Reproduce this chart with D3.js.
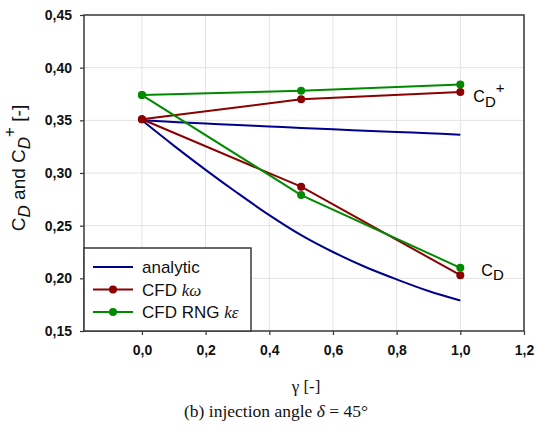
<!DOCTYPE html>
<html>
<head>
<meta charset="utf-8">
<script src="https://cdn.jsdelivr.net/npm/d3@7"></script>
<style>
  body { margin: 0; background: #fff; }
  svg { display: block; }
  .tick text { font-family: "Liberation Sans", Arial, sans-serif; font-weight: bold; font-size: 14px; fill: #111; }
</style>
</head>
<body>
<div id="chart"></div>
<script>
// gamma positions of the analytic curves
const gammaFine = [0, 0.1, 0.2, 0.3, 0.4, 0.5, 0.6, 0.7, 0.8, 0.9, 1.0]
const analyticPlus = [0.350, 0.3484, 0.3469, 0.3455, 0.3441, 0.3428, 0.3415, 0.3402, 0.3390, 0.3378, 0.3363]
const analyticMinus = [0.350, 0.326, 0.303, 0.281, 0.260, 0.241, 0.225, 0.211, 0.199, 0.188, 0.179]

// CFD points
const gammaCfd = [0, 0.5, 1.0]
const komegaPlus = [0.351, 0.370, 0.377]
const komegaMinus = [0.351, 0.287, 0.203]
const rngPlus = [0.374, 0.378, 0.384]
const rngMinus = [0.374, 0.279, 0.210]

const xTicks = [0, 0.2, 0.4, 0.6, 0.8, 1.0, 1.2]
const yTicks = [0.15, 0.20, 0.25, 0.30, 0.35, 0.40, 0.45]

const legendItems = [
  {label: 'analytic', color: '#00008f', dot: false},
  {label: 'CFD ', it: 'kω', color: '#8b0000', dot: true},
  {label: 'CFD RNG ', it: 'kε', color: '#008a00', dot: true}
]

const W = 536, H = 428
const m = {left: 84, right: 12, top: 15, bottom: 97}
const pw = W - m.left - m.right
const ph = H - m.top - m.bottom

const svg = d3.select('#chart').append('svg').attr('width', W).attr('height', H)
const g = svg.append('g').attr('transform', `translate(${m.left},${m.top})`)

const x = d3.scaleLinear().domain([-0.182, 1.2]).range([0, pw])
const y = d3.scaleLinear().domain([0.15, 0.45]).range([ph, 0])
const comma = d => d3.format('.1f')(d).replace('.', ',')
const comma2 = d => d3.format('.2f')(d).replace('.', ',')

// grid
g.append('g').selectAll('line').data(xTicks).join('line')
  .attr('x1', d => x(d)).attr('x2', d => x(d)).attr('y1', 0).attr('y2', ph)
  .attr('stroke', '#e3e3e3').attr('stroke-width', 1)
g.append('g').selectAll('line').data(yTicks).join('line')
  .attr('y1', d => y(d)).attr('y2', d => y(d)).attr('x1', 0).attr('x2', pw)
  .attr('stroke', '#e3e3e3').attr('stroke-width', 1)

// axes
const xAxis = g.append('g').attr('transform', `translate(0,${ph})`)
  .call(d3.axisBottom(x).tickValues(xTicks).tickFormat(comma).tickSize(4).tickPadding(10))
const yAxis = g.append('g')
  .call(d3.axisLeft(y).tickValues(yTicks).tickFormat(comma2).tickSize(4).tickPadding(8))
;[xAxis, yAxis].forEach(a => {
  a.select('.domain').remove()
  a.selectAll('.tick line').attr('stroke', '#333').attr('stroke-width', 1.2)
})

// frame
g.append('rect').attr('width', pw).attr('height', ph)
  .attr('fill', 'none').attr('stroke', '#3a3a3a').attr('stroke-width', 1.5)

const line = d3.line().x(d => x(d[0])).y(d => y(d[1]))
const smooth = d3.line().x(d => x(d[0])).y(d => y(d[1])).curve(d3.curveCatmullRom)

const lines = g.append('g')
const zip = (a, b) => a.map((v, i) => [v, b[i]])

;[analyticPlus, analyticMinus].forEach(s => {
  lines.append('path').datum(zip(gammaFine, s)).attr('d', smooth)
    .attr('fill', 'none').attr('stroke', legendItems[0].color).attr('stroke-width', 2)
})

const cfd = [
  {color: legendItems[1].color, series: [komegaPlus, komegaMinus]},
  {color: legendItems[2].color, series: [rngPlus, rngMinus]}
]
cfd.forEach(c => {
  c.series.forEach(s => {
    lines.append('path').datum(zip(gammaCfd, s)).attr('d', line)
      .attr('fill', 'none').attr('stroke', c.color).attr('stroke-width', 2)
  })
})
cfd.forEach(c => {
  c.series.forEach(s => {
    lines.append('g').selectAll('circle').data(zip(gammaCfd, s)).join('circle')
      .attr('cx', d => x(d[0])).attr('cy', d => y(d[1])).attr('r', 4)
      .attr('fill', c.color)
  })
})

// annotations
const sans = '"Liberation Sans", Arial, sans-serif'
const ann1 = g.append('text').attr('x', x(1.0) + 13).attr('y', y(0.384) + 17)
  .attr('font-family', sans).attr('font-size', 16)
ann1.append('tspan').text('C')
ann1.append('tspan').attr('dy', 5).attr('font-size', 15).text('D')
ann1.append('tspan').attr('dy', -14).attr('font-size', 15).text('+')

const ann2 = g.append('text').attr('x', x(1.0) + 21).attr('y', y(0.203) + 1)
  .attr('font-family', sans).attr('font-size', 16)
ann2.append('tspan').text('C')
ann2.append('tspan').attr('dy', 4).attr('font-size', 15).text('D')

// legend
const lg = g.append('g').attr('transform', `translate(0,${ph - 83})`)
lg.append('rect').attr('width', 167).attr('height', 83)
  .attr('fill', '#fff').attr('stroke', '#3a3a3a').attr('stroke-width', 1.5)
legendItems.forEach((d, i) => {
  const yy = 19 + i * 22.5
  lg.append('line').attr('x1', 9).attr('x2', 49).attr('y1', yy).attr('y2', yy)
    .attr('stroke', d.color).attr('stroke-width', 2)
  if (d.dot) lg.append('circle').attr('cx', 29).attr('cy', yy).attr('r', 4).attr('fill', d.color)
  const t = lg.append('text').attr('x', 58).attr('y', yy + 6)
    .attr('font-family', sans).attr('font-size', 17).attr('fill', '#111')
  t.append('tspan').text(d.label)
  if (d.it) t.append('tspan').attr('font-family', '"Liberation Serif", "Times New Roman", serif')
    .attr('font-style', 'italic').text(d.it)
})

// y title
const yt = svg.append('text')
  .attr('transform', `translate(25,${m.top + 153}) rotate(-90)`)
  .attr('text-anchor', 'middle').attr('font-family', sans).attr('font-size', 19).attr('fill', '#111')
yt.append('tspan').text('C')
yt.append('tspan').attr('font-style', 'italic').attr('font-size', 17).attr('dy', 5).text('D')
yt.append('tspan').attr('dy', -5).text(' and C')
yt.append('tspan').attr('font-style', 'italic').attr('font-size', 17).attr('dy', 5).text('D')
yt.append('tspan').attr('font-size', 17).attr('dy', -15).text('+')
yt.append('tspan').attr('dy', 10).text(' [-]')

// x title and caption
const serif = '"Liberation Serif", "Times New Roman", serif'
svg.append('text').attr('x', 306).attr('y', 392).attr('text-anchor', 'middle')
  .attr('font-family', serif).attr('font-size', 17).attr('fill', '#111').text('γ [-]')
const cap = svg.append('text').attr('x', 276).attr('y', 417).attr('text-anchor', 'middle')
  .attr('font-family', serif).attr('font-size', 17.5).attr('fill', '#111')
cap.append('tspan').text('(b) injection angle ')
cap.append('tspan').attr('font-style', 'italic').text('δ')
cap.append('tspan').text(' = 45°')
</script>
</body>
</html>
